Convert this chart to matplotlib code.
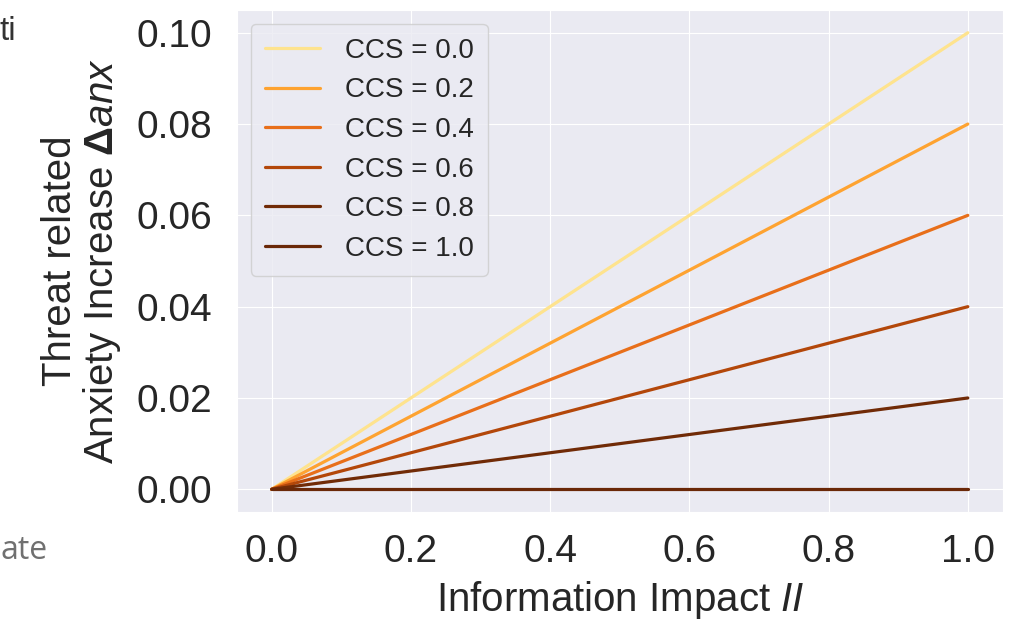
import numpy as np
import matplotlib
matplotlib.use('Agg')
import matplotlib.pyplot as plt
import seaborn as sns

# line end points, y at II = 0 and II = 1
ccs = [0.0, 0.2, 0.4, 0.6, 0.8, 1.0]
ii = [0.0, 1.0]
danx_end = [0.10, 0.08, 0.06, 0.04, 0.02, 0.00]
colors = ['#fee38e', '#fea331', '#e86f1a', '#b3470a', '#712b07', '#6a2808']

sns.set_style('darkgrid')
plt.rcParams['font.family'] = ['Liberation Sans', 'DejaVu Sans']
plt.rcParams['mathtext.fontset'] = 'custom'
plt.rcParams['mathtext.rm'] = 'Liberation Sans'
plt.rcParams['mathtext.it'] = 'Liberation Sans:italic'
plt.rcParams['mathtext.bf'] = 'Liberation Sans:bold'

fig = plt.figure(figsize=(10.21, 6.2), dpi=100)
ax = fig.add_axes([0.232, 0.174, 0.75, 0.81])

for c, y1, col in zip(ccs, danx_end, colors):
    ax.plot(ii, [0.0, y1], color=col, lw=2.3, label='CCS = %.1f' % c)

ax.set_xticks([0.0, 0.2, 0.4, 0.6, 0.8, 1.0])
ax.set_yticks([0.0, 0.02, 0.04, 0.06, 0.08, 0.10])
ax.set_yticklabels(['0.00', '0.02', '0.04', '0.06', '0.08', '0.10'])
ax.tick_params(labelsize=28, colors='#262626')
ax.tick_params(axis='x', pad=12)
ax.tick_params(axis='y', pad=14)
ax.set_xlabel('Information Impact $II$', fontsize=29, color='#262626', labelpad=7)
ax.set_ylabel('Threat related\nAnxiety Increase $\\mathbf{\\Delta}anx$', fontsize=29,
              color='#262626', labelpad=10, linespacing=1.05)

leg = ax.legend(loc='upper left', fontsize=20, handlelength=2.0, handletextpad=0.9,
                labelspacing=0.49, borderpad=0.5, frameon=True)

fig.text(0.0, 0.955 - 0.006, 'ti', fontsize=24, color='#333333', ha='left', va='center')
fig.text(0.0, 0.112, 'ate', fontsize=23, color='#707070', family='Open Sans',
         ha='left', va='center')

plt.savefig('out.png', dpi=100)
